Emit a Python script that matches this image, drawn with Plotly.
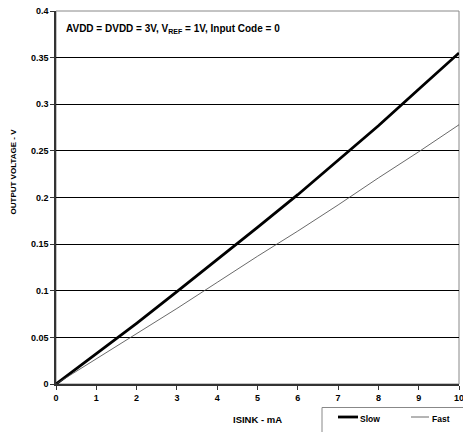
import plotly.graph_objects as go

isink = [0, 1, 2, 3, 4, 5, 6, 7, 8, 9, 10]
slow = [0, 0.032, 0.065, 0.099, 0.133, 0.168, 0.203, 0.240, 0.277, 0.316, 0.355]
fast = [0, 0.027, 0.054, 0.081, 0.109, 0.137, 0.164, 0.192, 0.221, 0.249, 0.278]
x_ticks = [0, 1, 2, 3, 4, 5, 6, 7, 8, 9, 10]
y_ticks = [0, 0.05, 0.1, 0.15, 0.2, 0.25, 0.3, 0.35, 0.4]
y_labels = ["0", "0.05", "0.1", "0.15", "0.2", "0.25", "0.3", "0.35", "0.4"]
series_names = ["Slow", "Fast"]

font_fam = "Liberation Sans, Arial, sans-serif"

W, H = 463, 432
L, R, T, B = 56, 4, 11, 48
PW, PH = W - L - R, H - T - B


def px(xp):
    return (xp - L) / PW


def py(yp):
    return (H - B - yp) / PH


fig = go.Figure()
fig.add_trace(go.Scatter(x=isink, y=slow, mode="lines", name=series_names[0],
                         line=dict(color="black", width=2.8), showlegend=False))
fig.add_trace(go.Scatter(x=isink, y=fast, mode="lines", name=series_names[1],
                         line=dict(color="#444444", width=0.8), showlegend=False))

legend_shapes = [
    dict(type="rect", xref="paper", yref="paper", x0=px(322), x1=px(470), y0=py(440), y1=py(407.5),
         line=dict(color="#888888", width=1), fillcolor="white", layer="above"),
    dict(type="line", xref="paper", yref="paper", x0=px(338), x1=px(358), y0=py(417), y1=py(417),
         line=dict(color="black", width=2.8), layer="above"),
    dict(type="line", xref="paper", yref="paper", x0=px(411), x1=px(429), y0=py(417), y1=py(417),
         line=dict(color="#444444", width=0.8), layer="above"),
]

fig.update_layout(
    width=W, height=H,
    margin=dict(l=L, r=R, t=T, b=B, autoexpand=False),
    paper_bgcolor="white", plot_bgcolor="white",
    font=dict(family=font_fam, size=9, color="black"),
    showlegend=False,
    xaxis=dict(range=[0, 10], tickvals=x_ticks, ticktext=[f"<b>{v}</b>" for v in x_ticks],
               showgrid=False, zeroline=False, showline=True, linecolor="#333333",
               linewidth=1.5, ticks="outside", ticklen=4, tickcolor="#333333",
               tickfont=dict(size=9), fixedrange=True, automargin=False,
               ticklabeloverflow="allow"),
    yaxis=dict(range=[0, 0.4], tickvals=y_ticks, ticktext=[f"<b>{t}</b>" for t in y_labels],
               showgrid=True, gridcolor="black", gridwidth=1, zeroline=False,
               showline=True, linecolor="#333333", linewidth=1.5,
               ticks="outside", ticklen=4, tickcolor="#333333",
               tickfont=dict(size=9), fixedrange=True, automargin=False,
               ticklabeloverflow="allow"),
    shapes=[dict(type="rect", xref="paper", yref="paper", x0=0, x1=1, y0=0, y1=1,
                 line=dict(color="#888888", width=1), layer="below")] + legend_shapes,
    annotations=[
        dict(text="<b>AVDD = DVDD = 3V, V<sub>REF</sub> = 1V, Input Code = 0</b>",
             xref="paper", yref="paper", x=px(64), y=py(29), xanchor="left",
             yanchor="middle", showarrow=False, font=dict(size=10)),
        dict(text="<b>ISINK - mA</b>", xref="paper", yref="paper", x=px(257.5), y=py(419),
             xanchor="center", yanchor="middle", showarrow=False, font=dict(size=9.5)),
        dict(text="<b>OUTPUT VOLTAGE - V</b>", xref="paper", yref="paper", x=px(13.5), y=py(172),
             xanchor="center", yanchor="middle", showarrow=False, textangle=-90,
             font=dict(size=8)),
        dict(text=f"<b>{series_names[0]}</b>", xref="paper", yref="paper", x=px(358), y=py(419),
             xanchor="left", yanchor="middle", showarrow=False, font=dict(size=8.5)),
        dict(text=f"<b>{series_names[1]}</b>", xref="paper", yref="paper", x=px(430), y=py(419),
             xanchor="left", yanchor="middle", showarrow=False, font=dict(size=8.5)),
    ],
)

fig.write_html("out.html", config={"displayModeBar": False},
               post_script="document.body.style.margin='0';document.body.style.overflow='hidden';")
